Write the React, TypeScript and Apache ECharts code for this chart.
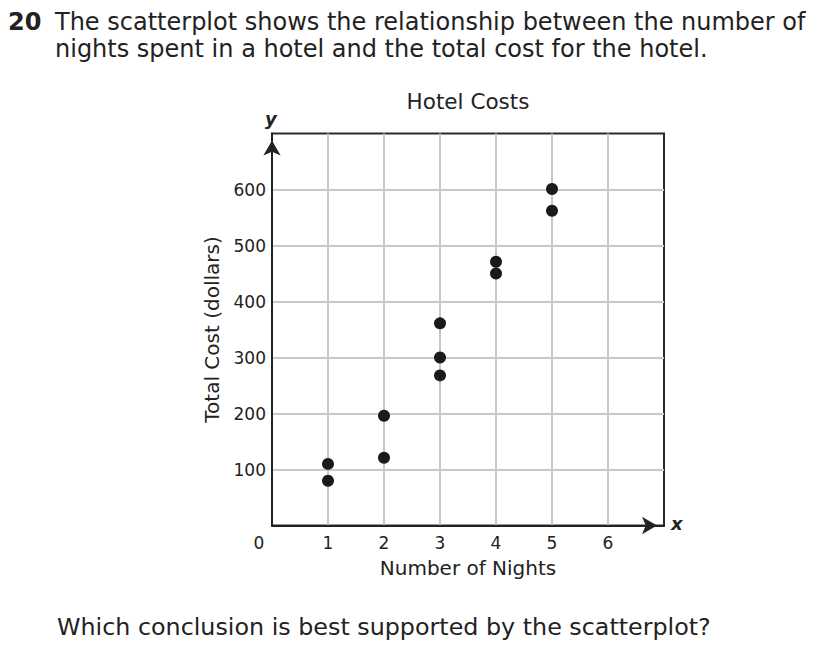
import React, { useEffect, useRef } from "react";
import * as echarts from "echarts";

const nights = [1, 1, 2, 2, 3, 3, 3, 4, 4, 5, 5];
const costs = [110, 80, 196, 121, 361, 300, 268, 471, 450, 601, 562];
const chartTitle = "Hotel Costs";
const xAxisName = "Number of Nights";
const yAxisName = "Total Cost (dollars)";
const questionNumber = "20";
const questionLines = [
  "The scatterplot shows the relationship between the number of",
  "nights spent in a hotel and the total cost for the hotel.",
];
const footerLine = "Which conclusion is best supported by the scatterplot?";

const FONT = "DejaVu Sans";
const INK = "#222222";

export default function App() {
  const ref = useRef<HTMLDivElement>(null);
  useEffect(() => {
    if (!ref.current) return;
    const chart = echarts.init(ref.current, null, { renderer: "svg" });
    const points = nights.map((n, i) => [n, costs[i]]);
    chart.setOption({
      animation: false,
      backgroundColor: "#ffffff",
      textStyle: { fontFamily: FONT },
      title: {
        text: chartTitle,
        left: 463,
        top: 85,
        textAlign: "center",
        textStyle: { fontFamily: FONT, fontSize: 21.5, fontWeight: "normal", color: INK },
      },
      grid: {
        left: 272,
        top: 133.5,
        width: 392,
        height: 392,
        show: true,
        borderColor: "#2b2b2b",
        borderWidth: 2,
        backgroundColor: "transparent",
      },
      xAxis: {
        type: "value",
        min: 0,
        max: 7,
        interval: 1,
        name: xAxisName,
        nameLocation: "middle",
        nameGap: 32,
        nameTextStyle: { fontFamily: FONT, fontSize: 20, color: INK },
        axisLine: {
          show: true,
          symbol: ["none", "arrow"],
          symbolSize: [13, 15],
          symbolOffset: [0, -7],
          lineStyle: { color: INK, width: 2 },
        },
        axisTick: { show: false },
        splitLine: {
          show: true,
          showMinLine: false,
          showMaxLine: false,
          lineStyle: { color: "#c8c8c8", width: 2 },
        },
        axisLabel: {
          fontFamily: FONT,
          fontSize: 17,
          color: INK,
          margin: 9,
          formatter: (v: number) => (v === 7 ? "" : v === 0 ? "{z|0}" : String(v)),
          rich: { z: { fontFamily: FONT, fontSize: 17, color: INK, padding: [0, 26, 0, 0] } },
        },
      },
      yAxis: {
        type: "value",
        min: 0,
        max: 700,
        interval: 100,
        name: yAxisName,
        nameLocation: "middle",
        nameGap: 50,
        nameTextStyle: { fontFamily: FONT, fontSize: 20, color: INK },
        axisLine: {
          show: true,
          symbol: ["none", "arrow"],
          symbolSize: [13, 15],
          symbolOffset: [0, -7],
          lineStyle: { color: INK, width: 2 },
        },
        axisTick: { show: false },
        splitLine: {
          show: true,
          showMinLine: false,
          showMaxLine: false,
          lineStyle: { color: "#c8c8c8", width: 2 },
        },
        axisLabel: {
          fontFamily: FONT,
          fontSize: 17,
          color: INK,
          margin: 6,
          formatter: (v: number) => (v === 0 || v === 700 ? "" : String(v)),
        },
      },
      series: [
        {
          type: "scatter",
          data: points,
          symbol: "circle",
          symbolSize: 12,
          itemStyle: { color: "#1a1a1a", opacity: 1 },
          z: 5,
        },
      ],
      graphic: [
        {
          type: "text",
          left: 8,
          top: 10,
          style: { text: questionNumber, fontFamily: FONT, fontSize: 24, fontWeight: "bold", fill: INK },
        },
        {
          type: "text",
          left: 55,
          top: 10,
          style: { text: questionLines[0], fontFamily: FONT, fontSize: 24, fill: INK },
        },
        {
          type: "text",
          left: 55,
          top: 37,
          style: { text: questionLines[1], fontFamily: FONT, fontSize: 24, fill: INK },
        },
        {
          type: "text",
          left: 57,
          top: 615,
          style: { text: footerLine, fontFamily: FONT, fontSize: 23.8, fill: INK },
        },
        {
          type: "text",
          left: 265,
          top: 109,
          style: { text: "y", fontFamily: FONT, fontSize: 18, fontWeight: "bold", fontStyle: "italic", fill: INK },
        },
        {
          type: "text",
          left: 671,
          top: 514,
          style: { text: "x", fontFamily: FONT, fontSize: 18, fontWeight: "bold", fontStyle: "italic", fill: INK },
        },
      ],
    });
    return () => chart.dispose();
  }, []);
  return (
    <div
      ref={ref}
      style={{ position: "absolute", left: 0, top: 0, width: 818, height: 650 }}
    />
  );
}
